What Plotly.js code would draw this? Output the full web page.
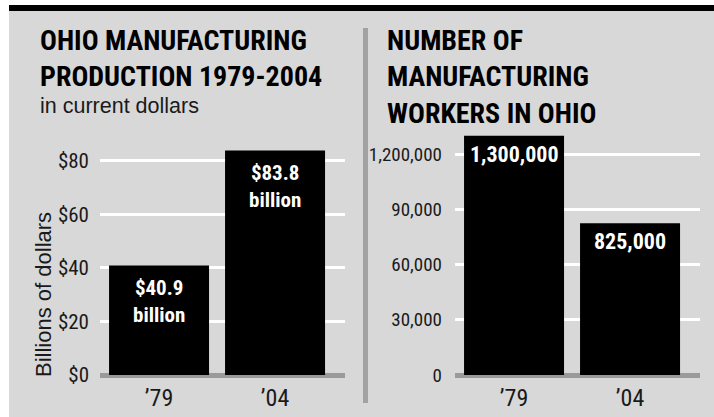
<!DOCTYPE html>
<html>
<head>
<meta charset="utf-8">
<script src="https://cdn.plot.ly/plotly-3.0.1.min.js"></script>
<style>html,body{margin:0;padding:0;background:#fff;}#chart{width:714px;height:417px;}</style>
</head>
<body>
<div id="chart"></div>
<script>
// ---- data ----
const years = ['\u201979', '\u201904'];
const production = [40.9, 83.8];          // billions of dollars
const workers = [1300000, 825000];        // manufacturing workers
const prodTickVals = [0, 20, 40, 60, 80];
const prodTickText = ['$0', '$20', '$40', '$60', '$80'];
const workerTickVals = [0, 300000, 600000, 900000, 1200000];
const workerTickText = ['0', '30,000', '60,000', '90,000', '1,200,000'];
const prodLabels = ['$40.9', '$83.8'];
const prodUnit = 'billion';
const workerLabels = ['1,300,000', '825,000'];
const leftTitle = 'OHIO MANUFACTURING<br>PRODUCTION 1979-2004';
const leftSubtitle = 'in current dollars';
const leftYTitle = 'Billions of dollars';
const rightTitle = 'NUMBER OF<br>MANUFACTURING<br>WORKERS IN OHIO';

// ---- style ----
const NARROW = "'Roboto Condensed', 'Open Sans Condensed', 'DejaVu Sans Condensed', sans-serif";
const SANS = "'Liberation Sans', Arial, sans-serif";
const INK = '#1a1a1a';
const BG = '#d8d8d8';
const W = 714, H = 417;
const px = v => v / W;
const py = v => 1 - v / H;

const barStyle = {color: '#000', line: {width: 0}};
const traces = [
  {type: 'bar', x: years, y: production, xaxis: 'x', yaxis: 'y', marker: barStyle, hoverinfo: 'none'},
  {type: 'bar', x: years, y: workers, xaxis: 'x2', yaxis: 'y2', marker: barStyle, hoverinfo: 'none'}
];

const xTickFont = {family: NARROW, size: 24, color: INK};

function xAxis(domain, anchor) {
  return {domain: domain, anchor: anchor, type: 'category', range: [-0.509, 1.603],
    showgrid: false, zeroline: false, showline: false, ticks: '', tickfont: xTickFont,
    ticklabelstandoff: 3, fixedrange: true};
}
function yAxis(domain, anchor, range, vals, text, standoff, fsize) {
  return {domain: domain, anchor: anchor, range: range, tickmode: 'array', tickvals: vals, ticktext: text,
    showgrid: true, gridcolor: '#ffffff', gridwidth: 3, zeroline: true, zerolinecolor: '#9a9a9a',
    zerolinewidth: 5, showline: false, ticks: '', ticklabelstandoff: standoff,
    tickfont: {family: NARROW, size: fsize, color: INK}, fixedrange: true};
}

const annotations = [];
const titleFont = {family: NARROW, size: 28, weight: 700, color: '#000'};
annotations.push({xref: 'paper', yref: 'paper', x: px(38), y: py(22), xanchor: 'left', yanchor: 'top',
  align: 'left', showarrow: false, text: leftTitle, font: titleFont});
annotations.push({xref: 'paper', yref: 'paper', x: px(385), y: py(22), xanchor: 'left', yanchor: 'top',
  align: 'left', showarrow: false, text: rightTitle, font: titleFont});
annotations.push({xref: 'paper', yref: 'paper', x: px(38), y: py(92), xanchor: 'left', yanchor: 'top',
  align: 'left', showarrow: false, text: leftSubtitle,
  font: {family: SANS, size: 21.5, color: INK}});
annotations.push({xref: 'paper', yref: 'paper', x: px(43), y: py(295), xanchor: 'center', yanchor: 'middle',
  textangle: -90, showarrow: false, text: leftYTitle,
  font: {family: SANS, size: 22, color: INK}});

const labelFont = {family: NARROW, size: 21, weight: 700, color: '#fff'};
years.forEach((yr, i) => {
  annotations.push({xref: 'x', yref: 'y', x: yr, y: production[i], yanchor: 'top', yshift: -9,
    showarrow: false, text: prodLabels[i] + '<br>' + prodUnit, font: labelFont});
  annotations.push({xref: 'x2', yref: 'y2', x: yr, y: workers[i], yanchor: 'top', yshift: -4,
    showarrow: false, text: workerLabels[i], font: {family: NARROW, size: 22, weight: 700, color: '#fff'}});
});

const shapes = [
  {type: 'rect', xref: 'paper', yref: 'paper', x0: px(9), x1: 1, y0: 0, y1: py(5),
    fillcolor: BG, line: {width: 0}, layer: 'below'},
  {type: 'rect', xref: 'paper', yref: 'paper', x0: px(9), x1: 1, y0: py(11), y1: py(5),
    fillcolor: '#000', line: {width: 0}, layer: 'below'},
  {type: 'rect', xref: 'paper', yref: 'paper', x0: px(363), x1: px(368), y0: py(403), y1: py(28),
    fillcolor: '#a2a2a2', line: {width: 0}, layer: 'below'}
];

const layout = {
  width: W, height: H, margin: {l: 0, r: 0, t: 0, b: 0, pad: 0},
  paper_bgcolor: '#ffffff', plot_bgcolor: 'rgba(0,0,0,0)',
  showlegend: false, bargap: 0.138,
  xaxis: xAxis([px(100), px(345)], 'y'),
  yaxis: yAxis([py(378), py(130)], 'x', [-3 / 2.68, 245 / 2.68], prodTickVals, prodTickText, 10, 21),
  xaxis2: xAxis([px(455), px(700)], 'y2'),
  yaxis2: yAxis([py(378), py(130)], 'x2', [-3 / 184 * 1e6, 245 / 184 * 1e6], workerTickVals, workerTickText, 12, 19),
  annotations: annotations,
  shapes: shapes
};

Plotly.newPlot('chart', traces, layout, {displayModeBar: false, staticPlot: true});
</script>
</body>
</html>
